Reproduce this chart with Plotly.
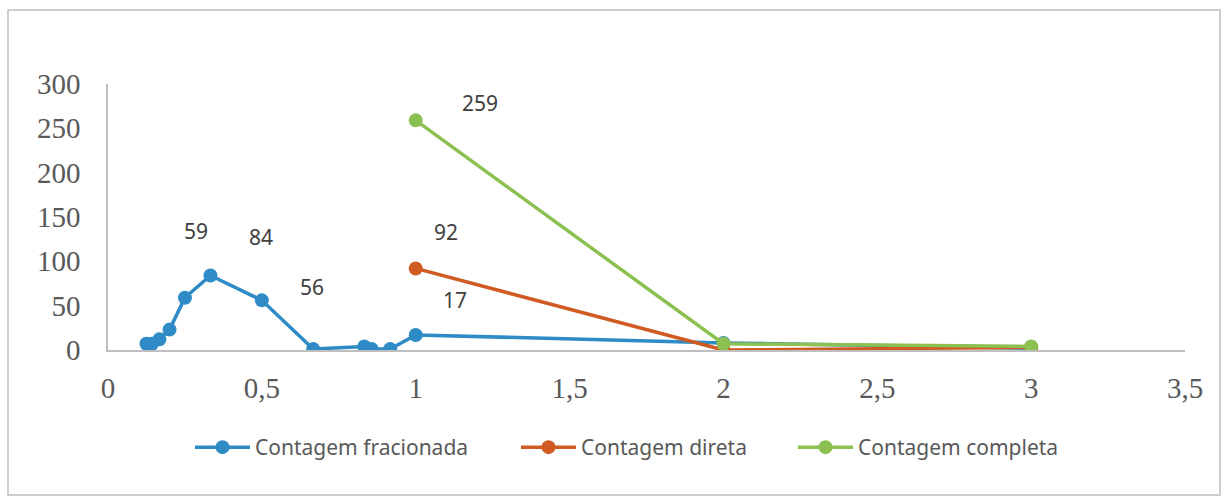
import plotly.graph_objects as go

# Data
frac_x = [0.125, 0.143, 0.167, 0.2, 0.25, 0.333, 0.5, 0.667, 0.833, 0.857, 0.917, 1, 2, 3]
frac_y = [7, 7, 12, 23, 59, 84, 56, 1, 4, 1, 1, 17, 8, 2]
direta_x = [1, 2, 3]
direta_y = [92, 0, 3]
completa_x = [1, 2, 3]
completa_y = [259, 7, 4]

# data labels (text, x, y) as placed in the source chart
label_text = ["59", "84", "56", "92", "17", "259"]
label_x = [0.285, 0.497, 0.664, 1.1, 1.127, 1.208]
label_y = [134, 128, 71, 133, 56, 279]

blue = "#2E8BC6"
orange = "#CF5B23"
green = "#8CC152"

L, R, T, B = 108, 41, 84, 152
W, H = 1226, 502
pw, ph = W - L - R, H - T - B

fig = go.Figure()
legend_names = ["legend", "legend2", "legend3"]
legend_px = [190, 516, 793]
for (name, xs, ys, col), lg in zip([
    ("Contagem fracionada", frac_x, frac_y, blue),
    ("Contagem direta", direta_x, direta_y, orange),
    ("Contagem completa", completa_x, completa_y, green),
], legend_names):
    fig.add_trace(go.Scatter(x=xs, y=ys, name=name, mode="lines+markers",
                             line=dict(color=col, width=3.5),
                             marker=dict(color=col, size=14), legend=lg))

for t, x, y in zip(label_text, label_x, label_y):
    fig.add_annotation(x=x, y=y, text=t, showarrow=False,
                       font=dict(family="Noto Sans", size=21, color="#404040"))

fig.add_shape(type="rect", xref="paper", yref="paper",
              x0=(8 - L) / pw, x1=(1220 - L) / pw,
              y0=(H - B - 495) / ph, y1=(H - B - 10) / ph,
              line=dict(color="#BFBFBF", width=1.5), layer="below")

legend_common = dict(orientation="h", xanchor="left", yanchor="top",
                     y=(H - B - 427) / ph,
                     font=dict(family="Noto Sans", size=21, color="#595959"),
                     itemwidth=55, bgcolor="rgba(0,0,0,0)")
legends = {lg: dict(legend_common, x=(px - L) / pw) for lg, px in zip(legend_names, legend_px)}

fig.update_layout(
    width=W, height=H,
    margin=dict(l=L, r=R, t=T, b=B),
    plot_bgcolor="white", paper_bgcolor="white",
    separators=",.",
    showlegend=True,
    **legends,
    xaxis=dict(range=[0, 3.5], dtick=0.5, tick0=0, showgrid=False, zeroline=False,
               showline=True, linecolor="#BFBFBF", linewidth=1.5,
               ticks="", ticklabelstandoff=11,
               tickfont=dict(family="Liberation Serif", size=29, color="#595959")),
    yaxis=dict(range=[0, 300], dtick=50, showgrid=False, zeroline=False,
               showline=True, linecolor="#BFBFBF", linewidth=1.5,
               ticks="", ticklabelstandoff=20,
               tickfont=dict(family="Liberation Serif", size=29, color="#595959")),
)

fig.write_html("out.html", config={"displayModeBar": False},
               post_script="document.body.style.margin='0';")
